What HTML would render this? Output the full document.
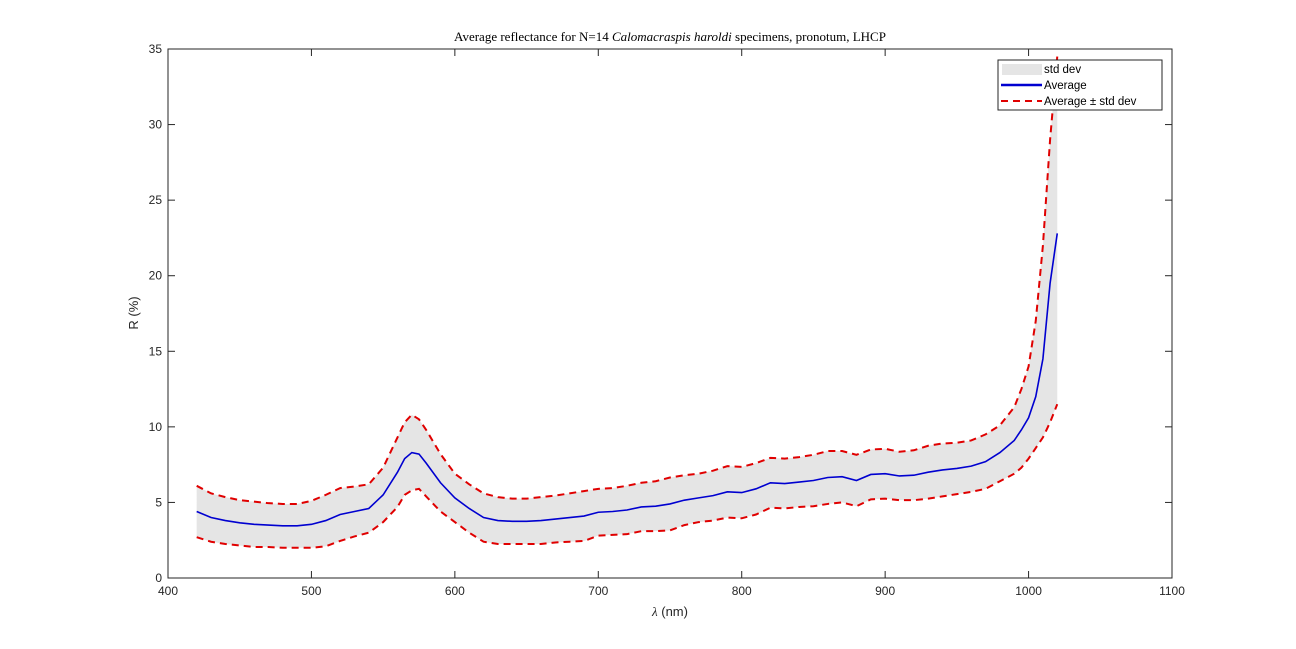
<!DOCTYPE html>
<html><head><meta charset="utf-8"><style>
body{margin:0;background:#fff;}
svg{display:block;font-family:"Liberation Sans","DejaVu Sans",sans-serif;}
</style></head><body>
<svg id="chart" width="1296" height="649">
<rect width="1296" height="649" fill="#fff"/>
<g id="plot"></g>
</svg>
<script>
const wavelengths=[420,430,440,450,460,470,480,490,500,510,520,530,540,550,560,565,570,575,580,590,600,610,620,630,640,650,660,670,680,690,700,710,720,730,740,750,760,770,780,790,800,810,820,830,840,850,860,870,880,890,900,910,920,930,940,950,960,970,980,990,995,1000,1005,1010,1015,1020];
const averageValues=[4.4,4.0,3.8,3.65,3.55,3.5,3.45,3.45,3.55,3.8,4.2,4.4,4.6,5.5,7.0,7.9,8.3,8.2,7.6,6.3,5.3,4.6,4.0,3.8,3.75,3.75,3.8,3.9,4.0,4.1,4.35,4.4,4.5,4.7,4.75,4.9,5.15,5.3,5.45,5.7,5.65,5.9,6.3,6.25,6.35,6.45,6.65,6.7,6.45,6.85,6.9,6.75,6.8,7.0,7.15,7.25,7.4,7.7,8.3,9.1,9.8,10.6,12.0,14.5,19.5,22.8];
const upperValues=[6.1,5.6,5.35,5.15,5.05,4.95,4.9,4.9,5.1,5.5,5.95,6.05,6.2,7.3,9.3,10.3,10.8,10.5,9.8,8.2,6.9,6.2,5.6,5.35,5.25,5.25,5.35,5.45,5.6,5.75,5.9,5.95,6.1,6.3,6.4,6.65,6.8,6.9,7.1,7.4,7.35,7.6,7.95,7.9,8.0,8.15,8.4,8.4,8.15,8.5,8.55,8.35,8.45,8.75,8.9,8.95,9.1,9.5,10.1,11.3,12.5,14.0,17.0,22.0,29.0,34.5];
const lowerValues=[2.7,2.4,2.25,2.15,2.05,2.05,2.0,2.0,2.0,2.1,2.45,2.75,3.0,3.7,4.7,5.5,5.8,5.9,5.4,4.4,3.7,3.0,2.4,2.25,2.25,2.25,2.25,2.35,2.4,2.45,2.8,2.85,2.9,3.1,3.1,3.15,3.5,3.7,3.8,4.0,3.95,4.2,4.65,4.6,4.7,4.75,4.9,5.0,4.75,5.2,5.25,5.15,5.15,5.25,5.4,5.55,5.7,5.9,6.4,6.9,7.3,7.9,8.6,9.3,10.3,11.5];
const xTicks=[400,500,600,700,800,900,1000,1100];
const yTicks=[0,5,10,15,20,25,30,35];

const L=168,R=1172,T=49,B=578;
const sx=v=>L+(v-400)/700*(R-L);
const sy=v=>B-v/35*(B-T);
const NS="http://www.w3.org/2000/svg";
const g=document.getElementById('plot');
function mk(tag,attrs,parent){const e=document.createElementNS(NS,tag);for(const k in attrs)e.setAttribute(k,attrs[k]);(parent||g).appendChild(e);return e;}

mk('rect',{x:L,y:T,width:R-L,height:B-T,fill:'#fff'});
const up=wavelengths.map((w,i)=>sx(w)+','+sy(upperValues[i]));
const lo=wavelengths.map((w,i)=>sx(w)+','+sy(lowerValues[i])).reverse();
const band=mk('polygon',{points:up.concat(lo).join(' '),fill:'#e5e5e5'});


const pts=arr=>wavelengths.map((w,i)=>sx(w)+','+sy(arr[i])).join(' ');
const upl=mk('polyline',{points:pts(upperValues),fill:'none',stroke:'#e00000','stroke-width':2,'stroke-dasharray':'7,5'});


const lol=mk('polyline',{points:pts(lowerValues),fill:'none',stroke:'#e00000','stroke-width':2,'stroke-dasharray':'7,5'});


const avl=mk('polyline',{points:pts(averageValues),fill:'none',stroke:'#0000d0','stroke-width':1.6});



mk('rect',{x:L,y:T,width:R-L,height:B-T,fill:'none',stroke:'#262626','stroke-width':1});
xTicks.forEach(v=>{
  const x=sx(v);
  mk('line',{x1:x,x2:x,y1:B,y2:B-7,stroke:'#262626'});
  mk('line',{x1:x,x2:x,y1:T,y2:T+7,stroke:'#262626'});
  const t=mk('text',{x:x,y:B+17,'text-anchor':'middle','font-size':12,fill:'#262626'});t.textContent=v;
  
  
});
yTicks.forEach(v=>{
  const y=sy(v);
  mk('line',{x1:L,x2:L+7,y1:y,y2:y,stroke:'#262626'});
  mk('line',{x1:R,x2:R-7,y1:y,y2:y,stroke:'#262626'});
  const t=mk('text',{x:L-6,y:y+4,'text-anchor':'end','font-size':12,fill:'#262626'});t.textContent=v;
  
  
});
</script>
<svg style="position:absolute;left:0;top:0" width="1296" height="649">
<text x="670" y="41" text-anchor="middle" font-family="'Liberation Serif','DejaVu Serif',serif" font-size="13" fill="#000">Average reflectance for N=14 <tspan font-style="italic">Calomacraspis haroldi</tspan> specimens, pronotum, LHCP</text>
<text x="670" y="616" text-anchor="middle" font-family="'Liberation Sans',sans-serif" font-size="13" fill="#262626"><tspan font-family="'Liberation Serif',serif" font-style="italic">λ</tspan> (nm)</text>
<text transform="translate(138,313) rotate(-90)" text-anchor="middle" font-family="'Liberation Sans',sans-serif" font-size="13" fill="#262626">R (%)</text>
<g>
<rect x="998" y="60" width="164" height="50" fill="#fff" stroke="#262626" stroke-width="1"/>
<rect x="1002" y="64" width="40" height="11" fill="#e5e5e5"/>
<text x="1044" y="73" font-family="'Liberation Sans',sans-serif" font-size="11.5" fill="#000">std dev</text>
<line x1="1001" x2="1042" y1="85" y2="85" stroke="#0000d0" stroke-width="2.5"/>
<text x="1044" y="89" font-family="'Liberation Sans',sans-serif" font-size="11.5" fill="#000">Average</text>
<line x1="1001" x2="1042" y1="101" y2="101" stroke="#e00000" stroke-width="2" stroke-dasharray="7,5"/>
<text x="1044" y="105" font-family="'Liberation Sans',sans-serif" font-size="11.5" fill="#000">Average ± std dev</text>
</g>
</svg>
</body></html>
